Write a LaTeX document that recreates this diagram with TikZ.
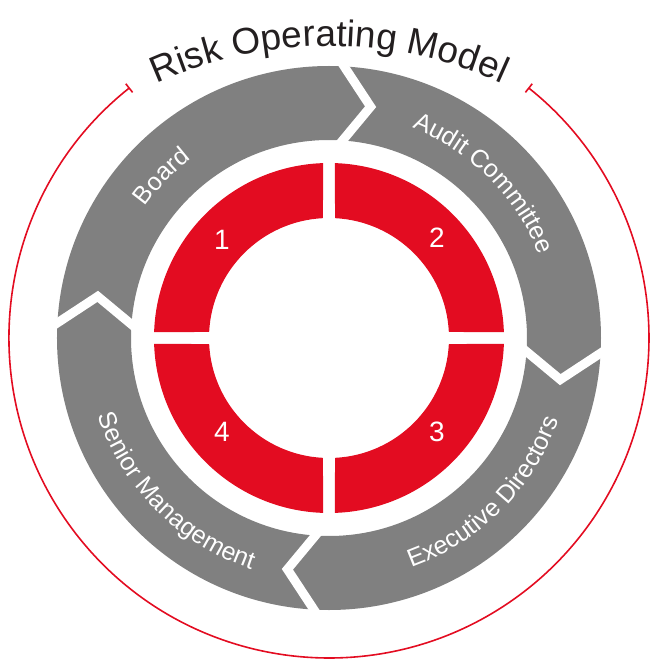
\documentclass[tikz,border=0pt]{standalone}
\usepackage{fontspec}
\setmainfont{Liberation Sans}
\usetikzlibrary{arrows.meta,decorations.text}
\definecolor{riskred}{RGB}{227,12,33}
\definecolor{riskgrey}{RGB}{128,128,128}
\definecolor{titlegrey}{RGB}{35,31,32}
\newcommand{\lblfmt}{\fontsize{25pt}{29pt}\selectfont\color{white}}
\newcommand{\titlefmt}{\fontsize{37pt}{44pt}\selectfont\color{titlegrey}}

\begin{document}
\begin{tikzpicture}[x=1pt, y=1pt,
  quad/.style={fill=riskred},
  ring/.style={fill=riskgrey, even odd rule},
  gapline/.style={draw=white, line width=9pt, miter limit=10},
  num/.style={font=\fontsize{28pt}{32pt}\selectfont, text=white, inner sep=0pt},
  curved/.style={decorate, decoration={text along path, text align=center, text={#1}}}
]
\useasboundingbox (-329,-321) rectangle (320,338);

\fill[ring] (0,0) circle[radius=272] (0,0) circle[radius=198];
\foreach \b in {88.3,-1.7,-91.7,178.3}
  \draw[gapline] (\b:282) -- (\b-8.5:235) -- (\b:188);

\foreach \a in {0,90,180,270}
  \fill[quad] (\a+1.96:175) arc[start angle=\a+1.96, end angle=\a+88.04, radius=175]
    -- (\a+87.13:120) arc[start angle=\a+87.13, end angle=\a+2.87, radius=120] -- cycle;

\draw[riskred, line width=1.6pt, {Bar[width=11pt]}-{Bar[width=11pt]}]
  (128.5:320) arc[start angle=128.5, end angle=411.5, radius=320];

\path[curved={|\lblfmt|Board}] (166:226) arc[start angle=166, end angle=106, radius=226];
\path[curved={|\lblfmt|Audit Committee}] (80:226) arc[start angle=80, end angle=10, radius=226];
\path[curved={|\lblfmt|Executive Directors}] (-85:244) arc[start angle=-85, end angle=-5, radius=244];
\path[curved={|\lblfmt|Senior Management}] (185:244) arc[start angle=185, end angle=265, radius=244];

\path[shift={(0,-124)}, curved={|\titlefmt|Risk Operating Model}]
  (125:416) arc[start angle=125, end angle=55, radius=416];

\node[num] (n1) at (-107,98) {1};
\node[num] (n2) at (108,100) {2};
\node[num] (n3) at (108,-94) {3};
\node[num] (n4) at (-107,-94) {4};
\end{tikzpicture}
\end{document}
